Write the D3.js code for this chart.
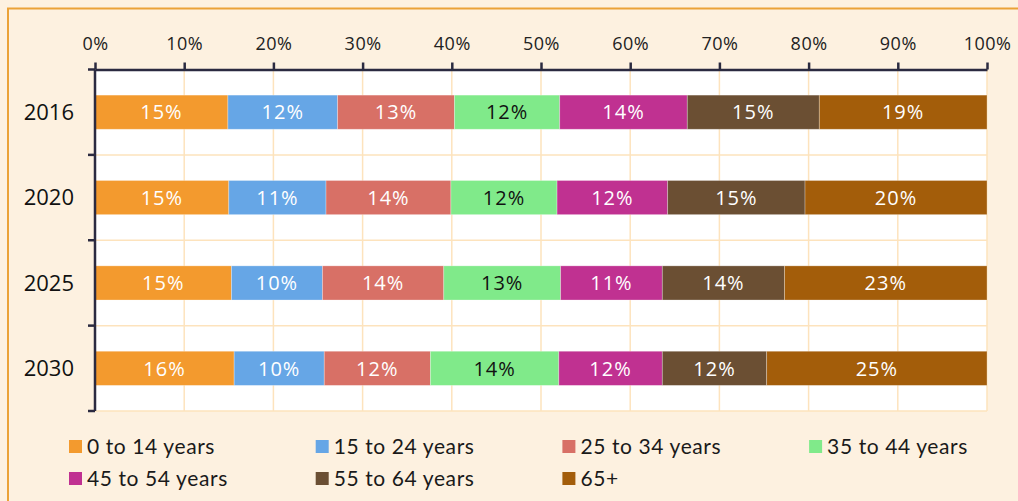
<!DOCTYPE html>
<html>
<head>
<meta charset="utf-8">
<script src="https://cdn.jsdelivr.net/npm/d3@7"></script>
<style>
  body { margin: 0; background: #fdf1e0; }
  #chart svg { display: block; }
</style>
</head>
<body>
<div id="chart"></div>
<script>
const years = ["2016", "2020", "2025", "2030"];
const groups = ["0 to 14 years", "15 to 24 years", "25 to 34 years", "35 to 44 years",
                "45 to 54 years", "55 to 64 years", "65+"];
// share of population (%) per year, one array per year in group order
const y2016 = [14.9, 12.3, 13.1, 11.8, 14.3, 14.8, 18.8];
const y2020 = [15.0, 10.9, 14.0, 11.9, 12.4, 15.4, 20.4];
const y2025 = [15.3, 10.2, 13.6, 13.1, 11.4, 13.7, 22.7];
const y2030 = [15.6, 10.1, 11.9, 14.4, 11.6, 11.7, 24.7];
const xTicks = [0, 10, 20, 30, 40, 50, 60, 70, 80, 90, 100];
const colors = ["#f39a2e", "#66a6e6", "#d87066", "#80ea8a", "#c03191", "#6b4f33", "#a35d0a"];

const W = 1018, H = 501;
const margin = {left: 95, right: 31, top: 69.5, bottom: 90};

const svg = d3.select("#chart")
    .append("svg")
    .attr("width", W)
    .attr("height", H);

// panel background + orange border (top / left)
svg.append("rect").attr("width", W).attr("height", H).attr("fill", "#fdf1e0");
svg.append("path")
    .attr("d", `M8,${H} L8,8.5 L${W},8.5`)
    .attr("fill", "none")
    .attr("stroke", "#eba237")
    .attr("stroke-width", 2);

const rows = [y2016, y2020, y2025, y2030].map((v, i) => {
    const r = {year: years[i]};
    groups.forEach((g, j) => r[g] = v[j]);
    return r;
});
const stacked = d3.stack().keys(groups)(rows);

const x = d3.scaleLinear().domain([0, 100]).range([margin.left, W - margin.right]);
const y = d3.scaleBand().domain(years)
    .range([margin.top, H - margin.bottom])
    .paddingInner(0.6).paddingOuter(0.3);
const step = y.step();

// plot area
svg.append("rect")
    .attr("x", x(0)).attr("y", margin.top)
    .attr("width", x(100) - x(0)).attr("height", H - margin.bottom - margin.top)
    .attr("fill", "#ffffff");

// grid
svg.append("g").selectAll("line")
    .data(xTicks)
    .join("line")
    .attr("x1", d => x(d)).attr("x2", d => x(d))
    .attr("y1", margin.top).attr("y2", H - margin.bottom)
    .attr("stroke", "#fde3bd").attr("stroke-width", 1.5);
svg.append("g").selectAll("line")
    .data(years)
    .join("line")
    .attr("x1", x(0)).attr("x2", x(100))
    .attr("y1", d => y(d) - y.paddingOuter() * step + step)
    .attr("y2", d => y(d) - y.paddingOuter() * step + step)
    .attr("stroke", "#fde3bd").attr("stroke-width", 1.5);

// bars
const layer = svg.append("g").selectAll("g")
    .data(stacked)
    .join("g")
    .attr("fill", (d, i) => colors[i]);

layer.selectAll("rect")
    .data(d => d)
    .join("rect")
    .attr("x", d => x(d[0]))
    .attr("y", d => y(d.data.year))
    .attr("width", d => x(d[1]) - x(d[0]))
    .attr("height", y.bandwidth())
    .attr("stroke", "#ffffff")
    .attr("stroke-opacity", 0.35)
    .attr("stroke-width", 0.8);

layer.selectAll("text")
    .data((d, i) => d.map(s => ({s, i})))
    .join("text")
    .attr("x", d => (x(d.s[0]) + x(d.s[1])) / 2)
    .attr("y", d => y(d.s.data.year) + y.bandwidth() / 2)
    .attr("dy", "0.36em")
    .attr("text-anchor", "middle")
    .attr("font-family", "'Open Sans', sans-serif")
    .attr("font-size", 20)
    .attr("letter-spacing", 1)
    .attr("fill", d => d.i === 3 ? "#111111" : "#ffffff")
    .text(d => Math.round(d.s[1] - d.s[0]) + "%");

// top axis
const axisTop = svg.append("g")
    .attr("transform", `translate(0,${margin.top})`)
    .call(d3.axisTop(x).tickValues(xTicks).tickFormat(d => d + "%").tickSize(7).tickSizeOuter(0).tickPadding(13));
axisTop.select(".domain").attr("stroke", "#2b2a40").attr("stroke-width", 2.5);
axisTop.selectAll(".tick line").attr("stroke", "#2b2a40").attr("stroke-width", 2.5);
axisTop.selectAll(".tick text")
    .attr("font-family", "'Open Sans', sans-serif")
    .attr("font-size", 18)
    .attr("letter-spacing", 0.5)
    .attr("fill", "#222222");

// left axis: line + ticks at band boundaries
const yEdges = [margin.top].concat(years.map(d => y(d) - y.paddingOuter() * step + step));
svg.append("line")
    .attr("x1", x(0)).attr("x2", x(0))
    .attr("y1", margin.top).attr("y2", H - margin.bottom)
    .attr("stroke", "#2b2a40").attr("stroke-width", 2.5);
svg.append("g").selectAll("line")
    .data(yEdges)
    .join("line")
    .attr("x1", x(0) - 7).attr("x2", x(0))
    .attr("y1", d => d).attr("y2", d => d)
    .attr("stroke", "#2b2a40").attr("stroke-width", 2.5);
svg.append("g").selectAll("text")
    .data(years)
    .join("text")
    .attr("x", 74)
    .attr("y", d => y(d) + y.bandwidth() / 2)
    .attr("dy", "0.36em")
    .attr("text-anchor", "end")
    .attr("font-family", "'Open Sans', sans-serif")
    .attr("font-size", 22)
    .attr("fill", "#111111")
    .text(d => d);

// legend
const legend = svg.append("g").selectAll("g")
    .data(groups)
    .join("g")
    .attr("transform", (d, i) => `translate(${69 + (i % 4) * 246.7},${447 + Math.floor(i / 4) * 32})`);
legend.append("rect")
    .attr("x", 0).attr("y", -7)
    .attr("width", 13).attr("height", 13)
    .attr("fill", (d, i) => colors[i]);
legend.append("text")
    .attr("x", 18)
    .attr("dy", "0.35em")
    .attr("font-family", "Lato, sans-serif")
    .attr("font-size", 21)
    .attr("letter-spacing", 0.6)
    .attr("fill", "#1a1a1a")
    .text(d => d);
</script>
</body>
</html>
